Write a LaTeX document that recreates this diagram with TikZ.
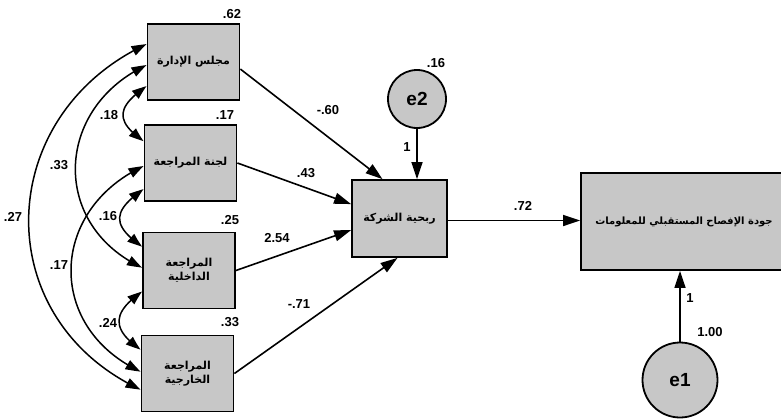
\documentclass[tikz,border=0pt]{standalone}
\usepackage{fontspec}
\setmainfont{Liberation Sans}
\newfontfamily\arabicfont[Script=Arabic]{DejaVu Sans}
\TeXXeTstate=1
\usetikzlibrary{arrows.meta,bending}
\begin{document}
\begin{tikzpicture}[x=1pt,y=-1pt,
  box/.style={draw, line width=1.8pt, fill=black!22, minimum width=92pt, minimum height=76pt, inner sep=0pt, align=center},
  err/.style={draw, circle, line width=1.8pt, fill=black!22, inner sep=0pt, font=\bfseries\fontsize{19}{19}\selectfont},
  pth/.style={line width=1.6pt, -{Triangle[length=17pt,width=11pt]}},
  cov/.style={line width=1.5pt, {Triangle[length=15pt,width=10pt,bend]}-{Triangle[length=15pt,width=10pt,bend]}},
  lab/.style={font=\bfseries\fontsize{13}{13}\selectfont, inner sep=0pt},
  ar/.style={font=\arabicfont\bfseries\fontsize{11}{14}\selectfont}]
\useasboundingbox (0,0) rectangle (781,418);
\clip (0,0) rectangle (781,418);
% boxes
\node[box, ar] (b1) at (193.5,62) {\beginR مجلس الإدارة\endR};
\node[box, ar] (b2) at (190.5,163) {\beginR لجنة المراجعة\endR};
\node[box, ar] (b3) at (189,270.5) {\beginR المراجعة\endR\\\beginR الداخلية\endR};
\node[box, ar] (b4) at (187.5,373.5) {\beginR المراجعة\endR\\\beginR الخارجية\endR};
\node[box, ar, minimum width=95pt, minimum height=77pt] (c) at (399.5,218.5) {\beginR ربحية الشركة\endR};
\node[box, minimum width=218pt, minimum height=97pt, font=\arabicfont\bfseries\fontsize{10}{13}\selectfont] (r) at (690,221.5) {\beginR جودة الإفصاح المستقبلي للمعلومات\endR\hspace*{12pt}};
\node[err, minimum size=58pt] (e2) at (417,99) {e2};
\node[err, minimum size=75pt] (e1) at (680,380) {e1};
% paths
\draw[pth] ([yshift=-46pt]b1.north east) -- ([xshift=-17pt]c.north);
\draw[pth] (b2.east) -- ([yshift=-25pt]c.north west);
\draw[pth] (b3.east) -- ([yshift=-51pt]c.north west);
\draw[pth] (b4.east) -- ([xshift=-2pt]c.south);
\draw[pth] (e2.south) -- (e2.south |- c.north);
\draw[pth] ([yshift=-2pt]c.east) -- ([yshift=-2pt]c.east -| r.west);
\draw[pth] (e1.north) -- (e1.north |- r.south);
% covariances
\draw[cov] ([yshift=-21pt]b1.north west) to[out=205,in=155,looseness=1.25] ([yshift=-55pt]b4.north west);
\draw[cov] ([yshift=-42pt]b1.north west) to[out=205,in=155,looseness=1.28] ([yshift=-36pt]b3.north west);
\draw[cov] ([yshift=-42pt]b2.north west) to[out=205,in=155,looseness=1.3] ([yshift=-37pt]b4.north west);
\draw[cov] ([yshift=-63pt]b1.north west) to[out=215,in=145,looseness=1.67] ([yshift=-17pt]b2.north west);
\draw[cov] ([yshift=-65pt]b2.north west) to[out=215,in=145,looseness=1.68] ([yshift=-15pt]b3.north west);
\draw[cov] ([yshift=-60pt]b3.north west) to[out=215,in=145,looseness=1.6] ([yshift=-15pt]b4.north west);
% labels
\node[lab] (v1) at (232,14) {.62};
\node[lab] (v2) at (225,115) {.17};
\node[lab] (v3) at (230,220) {.25};
\node[lab] (v4) at (230,322) {.33};
\node[lab] (v5) at (436,63) {.16};
\node[lab] (k1) at (109,115) {.18};
\node[lab] (k2) at (59,165) {.33};
\node[lab] (k3) at (13,217) {.27};
\node[lab] (k4) at (108,216) {.16};
\node[lab] (k5) at (59,265) {.17};
\node[lab] (k6) at (108,323) {.24};
\node[lab] (p1) at (328,110) {-.60};
\node[lab] (p2) at (306,173) {.43};
\node[lab] (p3) at (277,238) {2.54};
\node[lab] (p4) at (299,304) {-.71};
\node[lab] (p5) at (407,147) {1};
\node[lab] (p6) at (523,206) {.72};
\node[lab] (p7) at (690,298) {1};
\node[lab] (p8) at (710,332) {1.00};
\end{tikzpicture}
\end{document}
